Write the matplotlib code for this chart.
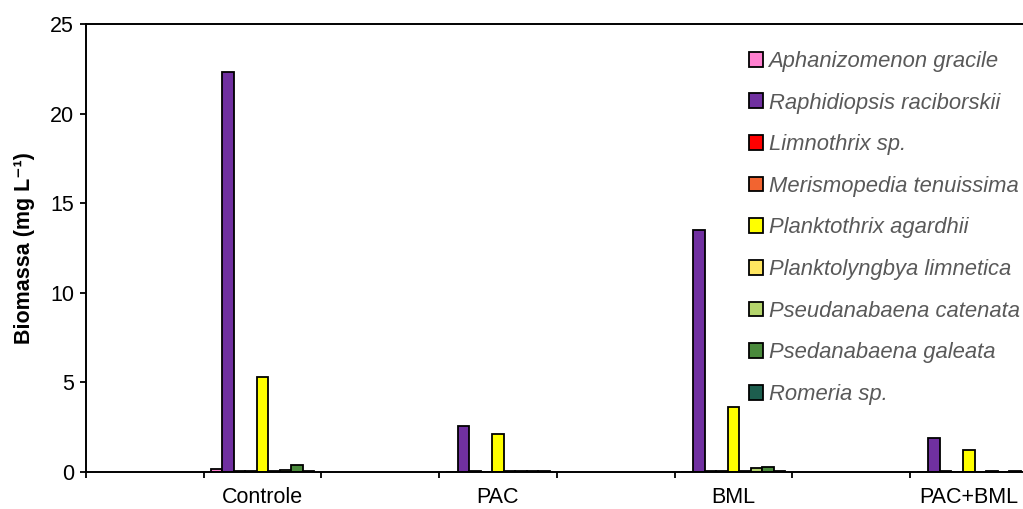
import numpy as np
import matplotlib
matplotlib.use('Agg')
import matplotlib.pyplot as plt

plt.rcParams['font.family'] = ['Liberation Sans', 'DejaVu Sans']

groups = ['Controle', 'PAC', 'BML', 'PAC+BML']
species = ['Aphanizomenon gracile', 'Raphidiopsis raciborskii', 'Limnothrix sp.',
           'Merismopedia tenuissima', 'Planktothrix agardhii', 'Planktolyngbya limnetica',
           'Pseudanabaena catenata', 'Psedanabaena galeata', 'Romeria sp.']
colors = ['#FF80D0', '#7030A0', '#FF0000', '#F26430', '#FFFF00',
          '#FFE660', '#B4D46C', '#4A8A3C', '#1D5E4E']

aphanizomenon = [0.18, 0.0, 0.0, 0.0]
raphidiopsis = [22.3, 2.55, 13.5, 1.9]
limnothrix = [0.04, 0.04, 0.04, 0.04]
merismopedia = [0.04, 0.0, 0.04, 0.0]
planktothrix = [5.3, 2.1, 3.6, 1.25]
planktolyngbya = [0.04, 0.04, 0.04, 0.0]
catenata = [0.1, 0.04, 0.2, 0.04]
galeata = [0.38, 0.04, 0.28, 0.0]
romeria = [0.05, 0.04, 0.05, 0.04]

series = [aphanizomenon, raphidiopsis, limnothrix, merismopedia, planktothrix,
          planktolyngbya, catenata, galeata, romeria]

fig = plt.figure(figsize=(10.23, 5.09), dpi=100)
ax = fig.add_axes([0.0841, 0.0727, 0.9204, 0.8802])

pos = np.arange(len(groups)) * 2 + 1
w = 0.098
for i, (vals, name, c) in enumerate(zip(series, species, colors)):
    ax.bar(pos + (i - 4) * w, vals, w, color=c, edgecolor='black', linewidth=1.3, label=name)

ax.set_xlim(-0.5, 7.5)
ax.set_ylim(0, 25)
ax.set_yticks(np.arange(0, 26, 5))
ax.set_xticks(np.arange(-0.5, 7.0, 1.0))
ax.set_xticklabels([])
ax.set_xticks(pos, minor=True)
ax.set_xticklabels(groups, minor=True)
ax.tick_params(axis='x', which='minor', length=0, pad=11, labelsize=15.5)
ax.tick_params(axis='both', which='major', direction='out', length=4.5, width=1.3,
               labelsize=15.5, colors='black')
ax.tick_params(axis='y', pad=4)
for s in ax.spines.values():
    s.set_linewidth(1.4)

ax.set_ylabel('Biomassa (mg L\u207b\u00b9)', fontsize=15.5, fontweight='bold', labelpad=11)

leg = ax.legend(loc='upper left', bbox_to_anchor=(0.732, 0.900), bbox_transform=fig.transFigure,
                frameon=False, fontsize=15.8, handlelength=0.65, handleheight=0.65,
                handletextpad=0.25, labelspacing=0.94, borderpad=0, borderaxespad=0)
for t in leg.get_texts():
    t.set_color('#595959')
    t.set_fontstyle('italic')

fig.savefig('out.png', dpi=100)
